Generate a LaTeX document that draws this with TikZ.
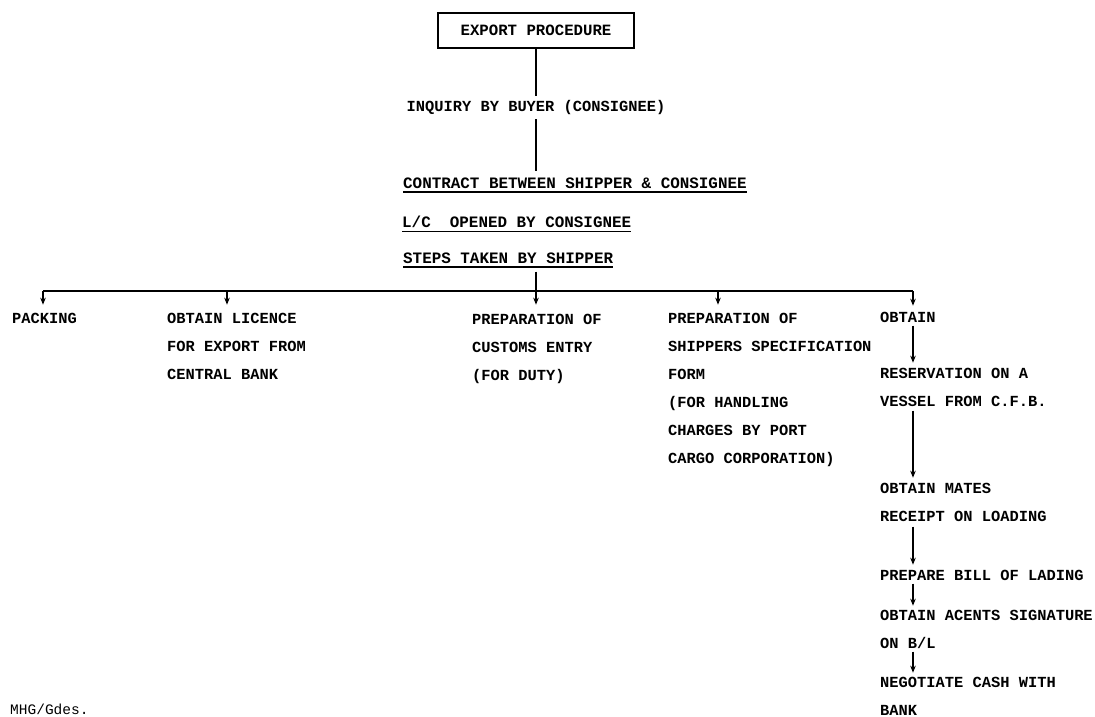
\documentclass[tikz,border=0pt]{standalone}
\usepackage{fontspec}
\setmonofont{Liberation Mono}
\usetikzlibrary{arrows.meta}
\begin{document}
\begin{tikzpicture}[x=1pt,y=-1pt,
  txt/.style={font=\ttfamily\bfseries\fontsize{15.4}{28}\selectfont, inner sep=0pt, align=left},
  wide/.style={txt, font=\ttfamily\bfseries\fontsize{15.9}{28}\selectfont, anchor=west},
  blk/.style={txt, anchor=north west},
  conn/.style={line width=1.8pt},
  arr/.style={line width=1.8pt, -{Stealth[length=7pt,width=5.5pt]}},
  uline/.style={line width=1.5pt},
  titlebox/.style={txt, font=\ttfamily\bfseries\fontsize{15.7}{28}\selectfont, draw, line width=1.3pt, minimum width=196pt, minimum height=35pt}
]
\useasboundingbox (0,0) rectangle (1095,717);

% top chain
\node[titlebox] (title) at (536,30.5) {EXPORT PROCEDURE};
\node[txt] (inq) at (536,108) {INQUIRY BY BUYER (CONSIGNEE)};
\node[wide] (contract) at (403,183) {CONTRACT BETWEEN SHIPPER \& CONSIGNEE};
\node[wide] (lc) at (402,222) {L/C\ \ OPENED BY CONSIGNEE};
\node[wide] (steps) at (403,258) {STEPS TAKEN BY SHIPPER};

\draw[uline] ([yshift=-4pt]contract.base west) -- ([yshift=-4pt]contract.base east);
\draw[uline] ([yshift=-4pt]lc.base west) -- ([yshift=-4pt]lc.base east);
\draw[uline] ([yshift=-4pt]steps.base west) -- ([yshift=-4pt]steps.base east);

\draw[conn, shorten >=5pt] (title.south) -- (inq.north);
\draw[conn, shorten <=4pt, shorten >=6pt] (inq.south) -- (contract.north -| inq.south);

% bus
\coordinate (d1) at (43,291);
\coordinate (d2) at (227,291);
\coordinate (d3) at (536,291);
\coordinate (d4) at (718,291);
\coordinate (d5) at (913,291);

% branch nodes
\node[blk] (packing) at (12,312.7) {PACKING};
\node[blk] (licence) at (167,312.7) {OBTAIN LICENCE\\FOR EXPORT FROM\\CENTRAL BANK};
\node[blk] (customs) at (472,313.7) {PREPARATION OF\\CUSTOMS ENTRY\\(FOR DUTY)};
\node[blk] (spec) at (668,312.7) {PREPARATION OF\\SHIPPERS SPECIFICATION\\FORM\\(FOR HANDLING\\CHARGES BY PORT\\CARGO CORPORATION)};
\node[blk] (obtain) at (880,311.7) {OBTAIN};
\node[blk] (reserv) at (880,367.7) {RESERVATION ON A\\VESSEL FROM C.F.B.};
\node[blk] (mates) at (880,482.7) {OBTAIN MATES\\RECEIPT ON LOADING};
\node[blk] (bill) at (880,569.7) {PREPARE BILL OF LADING};
\node[blk] (sig) at (880,609.7) {OBTAIN ACENTS SIGNATURE\\ON B/L};
\node[blk] (nego) at (880,676.7) {NEGOTIATE CASH WITH\\BANK};

\node[font=\ttfamily\fontsize{14.5}{17}\selectfont, inner sep=0pt, anchor=west] (mhg) at (10,709) {MHG/Gdes.};

% bus line and drops
\draw[conn] (d1) -- (d5);
\draw[arr, shorten <=8pt, shorten >=9pt] (steps.south -| d3) -- (customs.north -| d3);
\draw[arr, shorten >=8pt] (d1) -- (packing.north -| d1);
\draw[arr, shorten >=8pt] (d2) -- (licence.north -| d2);
\draw[arr, shorten >=8pt] (d4) -- (spec.north -| d4);
\draw[arr, shorten >=6pt] (d5) -- (obtain.north -| d5);

% right column
\draw[arr, shorten <=3pt, shorten >=5pt] (obtain.south -| d5) -- (reserv.north -| d5);
\draw[arr, shorten <=4pt, shorten >=5pt] (reserv.south -| d5) -- (mates.north -| d5);
\draw[arr, shorten <=5pt, shorten >=5pt] (mates.south -| d5) -- (bill.north -| d5);
\draw[arr, shorten <=3pt, shorten >=4pt] (bill.south -| d5) -- (sig.north -| d5);
\draw[arr, shorten <=3pt, shorten >=4pt] (sig.south -| d5) -- (nego.north -| d5);
\end{tikzpicture}
\end{document}
